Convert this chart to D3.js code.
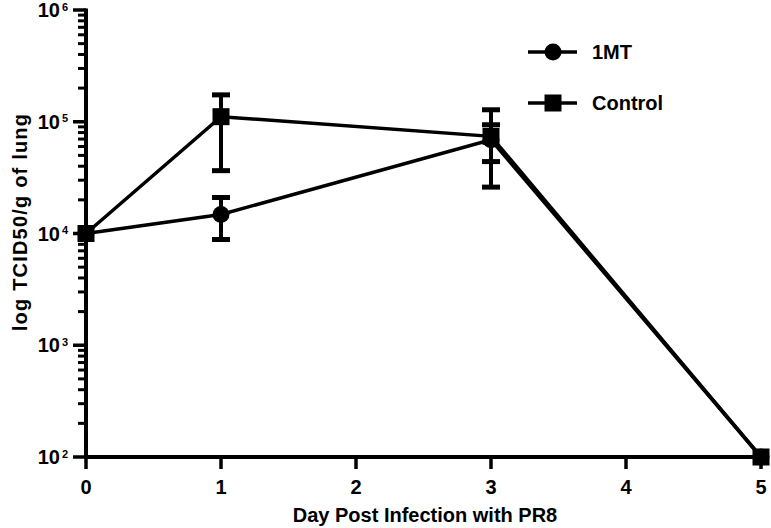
<!DOCTYPE html>
<html><head><meta charset="utf-8">
<script src="https://cdn.jsdelivr.net/npm/d3@7"></script>
<style>
body{margin:0;background:#fff;}
text{font-family:"Liberation Sans",Arial,sans-serif;font-weight:bold;fill:#000;}
</style></head>
<body><svg id="c" width="771" height="528"></svg>
<script>
const days = [0, 1, 3, 5];
const series = ["1MT", "Control"];
const mt_mean  = [10000, 14800, 69000, 100];
const mt_lo    = [10000, 8840, 26000, 100];
const mt_hi    = [10000, 21000, 94000, 100];
const ctl_mean = [10000, 111000, 74000, 100];
const ctl_lo   = [10000, 36500, 44000, 100];
const ctl_hi   = [10000, 174000, 128000, 100];
const xTicks = [0, 1, 2, 3, 4, 5];
const yMajor = [100, 1000, 10000, 100000, 1000000];
const yMinorMult = [2, 3, 4, 5, 6, 7, 8, 9];
const xTitle = "Day Post Infection with PR8";
const yTitle = "log TCID50/g of lung";

const svg = d3.select("#c");
const x = d3.scaleLinear().domain([0, 5]).range([86, 761]);
const y = d3.scaleLog().domain([100, 1000000]).range([457, 10]);

const yMinor = [];
yMajor.slice(0, 4).forEach(b => yMinorMult.forEach(m => yMinor.push(b * m)));

const gY = svg.append("g");
gY.selectAll("rect.minor").data(yMinor).enter().append("rect").attr("class", "minor")
  .attr("x", 78).attr("width", 8).attr("y", d => y(d) - 1.5).attr("height", 3).attr("fill", "#000");
gY.selectAll("rect.major").data(yMajor).enter().append("rect").attr("class", "major")
  .attr("x", 73).attr("width", 13).attr("y", d => y(d) - 1.75).attr("height", 3.5).attr("fill", "#000");
gY.append("rect").attr("x", 84).attr("width", 4).attr("y", y(1000000) - 1.5).attr("height", y(100) - y(1000000) + 3)
  .attr("fill", "#000");
gY.selectAll("text.yl").data(yMajor).enter().append("text").attr("class", "yl")
  .attr("x", 60).attr("y", d => y(d) + 7).attr("text-anchor", "end")
  .style("font-size", "20px").text("10");
gY.selectAll("text.ye").data(yMajor).enter().append("text").attr("class", "ye")
  .attr("x", 62).attr("y", d => y(d) + 0.5).style("font-size", "11px")
  .text(d => Math.round(Math.log10(d)));

// x axis
const gX = svg.append("g");
gX.append("line").attr("x1", 84).attr("x2", 764).attr("y1", 457).attr("y2", 457)
  .attr("stroke", "#000").attr("stroke-width", 4);
gX.selectAll("line.t").data(xTicks).enter().append("line").attr("class", "t")
  .attr("x1", d => x(d)).attr("x2", d => x(d)).attr("y1", 457).attr("y2", 469)
  .attr("stroke", "#000").attr("stroke-width", 3.5);
gX.selectAll("text.t").data(xTicks).enter().append("text").attr("class", "t")
  .attr("x", d => x(d)).attr("y", 494).attr("text-anchor", "middle")
  .style("font-size", "20px").text(d => d);

svg.append("text").attr("x", 425).attr("y", 522).attr("text-anchor", "middle")
  .style("font-size", "20px").text(xTitle);
svg.append("text").attr("transform", "translate(27,222) rotate(-90)")
  .attr("text-anchor", "middle").style("font-size", "20px").style("letter-spacing", "1.2px").text(yTitle);

const data = [
  {name: series[0], mean: mt_mean, lo: mt_lo, hi: mt_hi, shape: "circle"},
  {name: series[1], mean: ctl_mean, lo: ctl_lo, hi: ctl_hi, shape: "square"}
];
const lineGen = d3.line().x(d => x(d[0])).y(d => y(d[1]));
data.forEach(s => {
  svg.append("path").attr("d", lineGen(days.map((d, i) => [d, s.mean[i]])))
    .attr("fill", "none").attr("stroke", "#000").attr("stroke-width", 3.5);
});
data.forEach(s => {
  const g = svg.append("g");
  days.forEach((d, i) => {
    if (s.hi[i] === s.lo[i]) return;
    const cx = x(d);
    g.append("line").attr("x1", cx).attr("x2", cx).attr("y1", y(s.hi[i])).attr("y2", y(s.lo[i]))
      .attr("stroke", "#000").attr("stroke-width", 4);
    [s.hi[i], s.lo[i]].forEach(v => {
      g.append("line").attr("x1", cx - 9).attr("x2", cx + 9).attr("y1", y(v)).attr("y2", y(v))
        .attr("stroke", "#000").attr("stroke-width", 5);
    });
  });
});
function marker(g, shape, cx, cy) {
  if (shape === "circle") g.append("circle").attr("cx", cx).attr("cy", cy).attr("r", 8.5).attr("fill", "#000");
  else g.append("rect").attr("x", cx - 8.5).attr("y", cy - 8.5).attr("width", 17).attr("height", 17).attr("fill", "#000");
}
data.forEach(s => {
  const g = svg.append("g");
  days.forEach((d, i) => marker(g, s.shape, x(d), y(s.mean[i])));
});

// legend
const leg = svg.append("g");
data.forEach((s, i) => {
  const ly = 52 + i * 51;
  leg.append("line").attr("x1", 528).attr("x2", 577).attr("y1", ly).attr("y2", ly)
    .attr("stroke", "#000").attr("stroke-width", 3.5);
  marker(leg, s.shape, 553, ly);
  leg.append("text").attr("x", 592).attr("y", ly + 7).style("font-size", "20px").text(s.name);
});
</script></body></html>
